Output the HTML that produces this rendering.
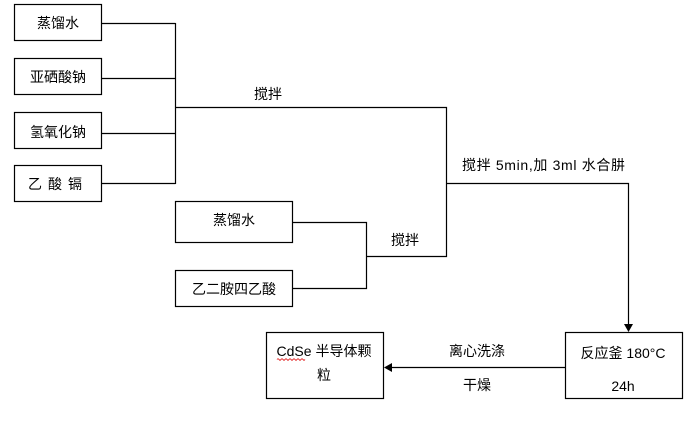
<!DOCTYPE html>
<html><head><meta charset="utf-8"><style>
body{margin:0;width:690px;height:416px;background:#fff;overflow:hidden}
svg text{font-family:"Liberation Sans","Noto Sans CJK SC",sans-serif;font-size:14px;fill:#000}
</style></head><body>
<svg width="690" height="416" viewBox="0 0 690 416" xmlns="http://www.w3.org/2000/svg">
<g fill="none" stroke="#000" stroke-width="1.2">
<rect x="14.5" y="4.5" width="87" height="36"/>
<rect x="14.5" y="58.5" width="87" height="36"/>
<rect x="14.5" y="112.5" width="87" height="36"/>
<rect x="14.5" y="165.5" width="87" height="36"/>
<rect x="175.5" y="201.5" width="117" height="41"/>
<rect x="175.5" y="270.5" width="117" height="36"/>
<rect x="266.5" y="332.5" width="117" height="66"/>
<rect x="565.5" y="332.5" width="117" height="66"/>
<path d="M101 23.5H175.5M101 78.5H175.5M101 133.5H175.5M101 183.5H175.5M175.5 23V184M175.5 107.5H446.5V256.5H366.5M446.5 183.5H628.5V325M292 222.5H366.5V288.5H292M565 367.5H392"/>
</g>
<path d="M624 324L633 324L628.5 332Z" fill="#000"/>
<path d="M384 367.5L392 363L392 372Z" fill="#000"/>
<path d="M277 359.5q1 -1.5 2 0t2 0t2 0t2 0t2 0t2 0t2 0t2 0t2 0t2 0t2 0t2 0t2 0t2 0" fill="none" stroke="#d00" stroke-width="0.8"/>
<text x="58" y="28" text-anchor="middle">蒸馏水</text>
<text x="58" y="82" text-anchor="middle">亚硒酸钠</text>
<text x="58" y="137" text-anchor="middle">氢氧化钠</text>
<text x="58" y="189" text-anchor="middle" letter-spacing="6">乙酸镉</text>
<text x="234" y="225" text-anchor="middle">蒸馏水</text>
<text x="234" y="294" text-anchor="middle">乙二胺四乙酸</text>
<text x="268" y="99" text-anchor="middle">搅拌</text>
<text x="405" y="245" text-anchor="middle">搅拌</text>
<text x="462" y="170" textLength="163" lengthAdjust="spacing">搅拌 5min,加 3ml 水合肼</text>
<text x="324" y="356" text-anchor="middle">CdSe 半导体颗</text>
<text x="324" y="380" text-anchor="middle">粒</text>
<text x="477" y="356" text-anchor="middle">离心洗涤</text>
<text x="477" y="390" text-anchor="middle">干燥</text>
<text x="623" y="358" text-anchor="middle">反应釜 180°C</text>
<text x="623" y="391" text-anchor="middle">24h</text>
</svg>
</body></html>
